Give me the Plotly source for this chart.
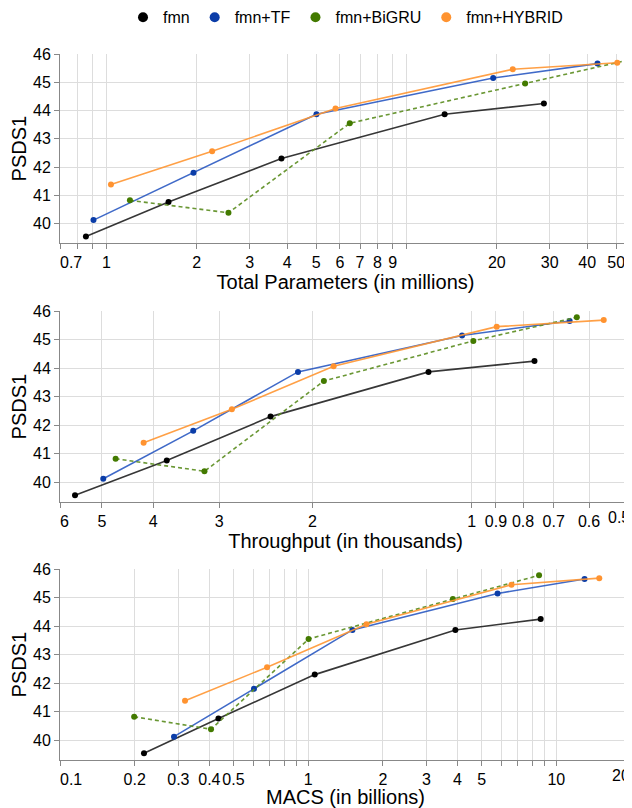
import math
import plotly.graph_objects as go
from plotly.subplots import make_subplots

# ---------------- data ----------------
series_names = ["fmn", "fmn+TF", "fmn+BiGRU", "fmn+HYBRID"]

psds1_fmn = [39.54, 40.76, 42.30, 43.87, 44.25]
psds1_tf = [40.12, 41.80, 43.87, 45.15, 45.66]
psds1_bigru = [40.82, 40.38, 43.55, 44.96, 45.79]
psds1_hybrid = [41.38, 42.56, 44.07, 45.46, 45.69]

params_fmn = [0.854, 1.61, 3.83, 13.4, 28.7]
params_tf = [0.905, 1.95, 5.01, 19.45, 43.3]
params_bigru = [1.197, 2.55, 6.47, 24.85, 55.1]
params_hybrid = [1.035, 2.25, 5.80, 22.6, 50.4]

thr_fmn = [5.62, 3.77, 2.40, 1.207, 0.761]
thr_tf = [4.97, 3.36, 2.13, 1.043, 0.653]
thr_bigru = [4.71, 3.20, 1.903, 0.993, 0.633]
thr_hybrid = [4.17, 2.84, 1.824, 0.897, 0.563]

macs_fmn = [0.218, 0.435, 1.063, 3.92, 8.65]
macs_tf = [0.288, 0.605, 1.508, 5.80, 13.0]
macs_bigru = [0.199, 0.406, 1.004, 3.83, 8.52]
macs_hybrid = [0.319, 0.683, 1.717, 6.6, 14.9]

y_ticks = [40, 41, 42, 43, 44, 45, 46]

x1_tickvals = [0.7, 0.8, 0.9, 1, 2, 3, 4, 5, 6, 7, 8, 9, 10, 20, 30, 40, 50]
x1_ticktext = ["0.7", "", "", "1", "2", "3", "4", "5", "6", "7", "8", "9", "", "20", "30", "40", "50"]
x2_tickvals = [6, 5, 4, 3, 2, 1, 0.9, 0.8, 0.7, 0.6, 0.5]
x2_ticktext = ["6", "5", "4", "3", "2", "1", "0.9", "0.8", "0.7", "0.6", "0.5"]
x3_tickvals = [0.1, 0.2, 0.3, 0.4, 0.5, 0.6, 0.7, 0.8, 0.9, 1, 2, 3, 4, 5, 6, 7, 8, 9, 10, 20]
x3_ticktext = ["0.1", "0.2", "0.3", "0.4", "0.5", "", "", "", "", "1", "2", "3", "4", "5", "", "", "", "", "10", "20"]

x_titles = ["Total Parameters (in millions)", "Throughput (in thousands)", "MACS (in billions)"]

# ---------------- style ----------------
NB = "\u00a0"
FONT = "Liberation Sans, Arial, sans-serif"
marker_colors = ["#000000", "#0b3da8", "#437a00", "#ff9330"]
line_colors = ["rgba(20,20,20,0.85)", "rgba(30,80,190,0.85)", "rgba(90,140,30,0.9)", "rgba(255,150,50,0.9)"]
dashes = ["solid", "solid", "4px,3px", "solid"]

# flush first labels to the right of the axis start (leading non-breaking spaces)
x1_ticktext[0] = NB * 5 + x1_ticktext[0]
x2_ticktext[0] = NB * 2 + x2_ticktext[0]
x3_ticktext[0] = NB * 5 + x3_ticktext[0]
# last labels of rows 2 and 3 end at the axis end: drawn as right-anchored labels
end_labels = {2: (x2_tickvals[-1], x2_ticktext[-1]), 3: (x3_tickvals[-1], x3_ticktext[-1])}
x2_ticktext[-1] = ""
x3_ticktext[-1] = ""

psds = [psds1_fmn, psds1_tf, psds1_bigru, psds1_hybrid]
xs_by_row = [
    [params_fmn, params_tf, params_bigru, params_hybrid],
    [thr_fmn, thr_tf, thr_bigru, thr_hybrid],
    [macs_fmn, macs_tf, macs_bigru, macs_hybrid],
]

fig = make_subplots(rows=3, cols=1)

for r, xs in enumerate(xs_by_row, start=1):
    for i, name in enumerate(series_names):
        fig.add_trace(
            go.Scatter(
                x=xs[i], y=psds[i], mode="lines+markers", name=name,
                line=dict(color=line_colors[i], width=1.6, dash=dashes[i]),
                marker=dict(color=marker_colors[i], size=6),
                showlegend=False, cliponaxis=False, legendgroup=name,
            ),
            row=r, col=1,
        )

# legend entries (circles only)
for i, name in enumerate(series_names):
    fig.add_trace(
        go.Scatter(x=[None], y=[None], mode="markers", name=name,
                   marker=dict(color=marker_colors[i], size=10),
                   showlegend=True, legendgroup=name),
        row=1, col=1,
    )

domains = [[0.7319, 1.0], [0.3654, 0.6356], [0.0, 0.2701]]
ranges = [
    [math.log10(0.7), math.log10(56)],
    [math.log10(6), math.log10(0.5)],
    [math.log10(0.1), math.log10(20)],
]
tickvals = [x1_tickvals, x2_tickvals, x3_tickvals]
ticktexts = [x1_ticktext, x2_ticktext, x3_ticktext]

tickfont = dict(family=FONT, size=16, color="#000000")
axis_common = dict(
    showline=True, linecolor="#888888", linewidth=1,
    showgrid=True, gridcolor="#dddddd", gridwidth=1,
    ticks="outside", ticklen=5, tickcolor="#888888", tickwidth=1,
    tickfont=tickfont, zeroline=False, mirror=False, automargin=False,
)

for r in range(3):
    xa = "xaxis" if r == 0 else f"xaxis{r+1}"
    ya = "yaxis" if r == 0 else f"yaxis{r+1}"
    fig.layout[xa].update(
        type="log", range=ranges[r], domain=[0, 1],
        tickmode="array", tickvals=tickvals[r], ticktext=ticktexts[r], tickangle=0,
        ticklabeloverflow="allow",
        title=dict(text=x_titles[r], font=dict(family=FONT, size=20, color="#000000"), standoff=0),
        **axis_common,
    )
    fig.layout[ya].update(
        range=[39.3, 46], domain=domains[r],
        tickmode="array", tickvals=y_ticks,
        title=dict(text="PSDS1", font=dict(family=FONT, size=20, color="#000000"), standoff=2),
        **axis_common,
    )

for r, (val, txt) in end_labels.items():
    fig.add_annotation(
        x=math.log10(val), xref=f"x{r}", y=0, yref=f"y{r} domain",
        text=txt, showarrow=False, xanchor="right", yanchor="top",
        yshift=-5, xshift=1, font=tickfont, borderpad=1,
    )

# the page body has an 8px margin, so the figure is 8px smaller than the window
fig.update_layout(
    width=624, height=800,
    margin=dict(l=52, r=1, t=46, b=48, autoexpand=False),
    paper_bgcolor="white", plot_bgcolor="white",
    font=dict(family=FONT, size=16, color="#000000"),
    legend=dict(orientation="h", x=0.5, xanchor="center", y=1.052, yanchor="middle",
                font=dict(family=FONT, size=16, color="#000000"), bgcolor="rgba(0,0,0,0)"),
)

fig.write_html("out.html")
